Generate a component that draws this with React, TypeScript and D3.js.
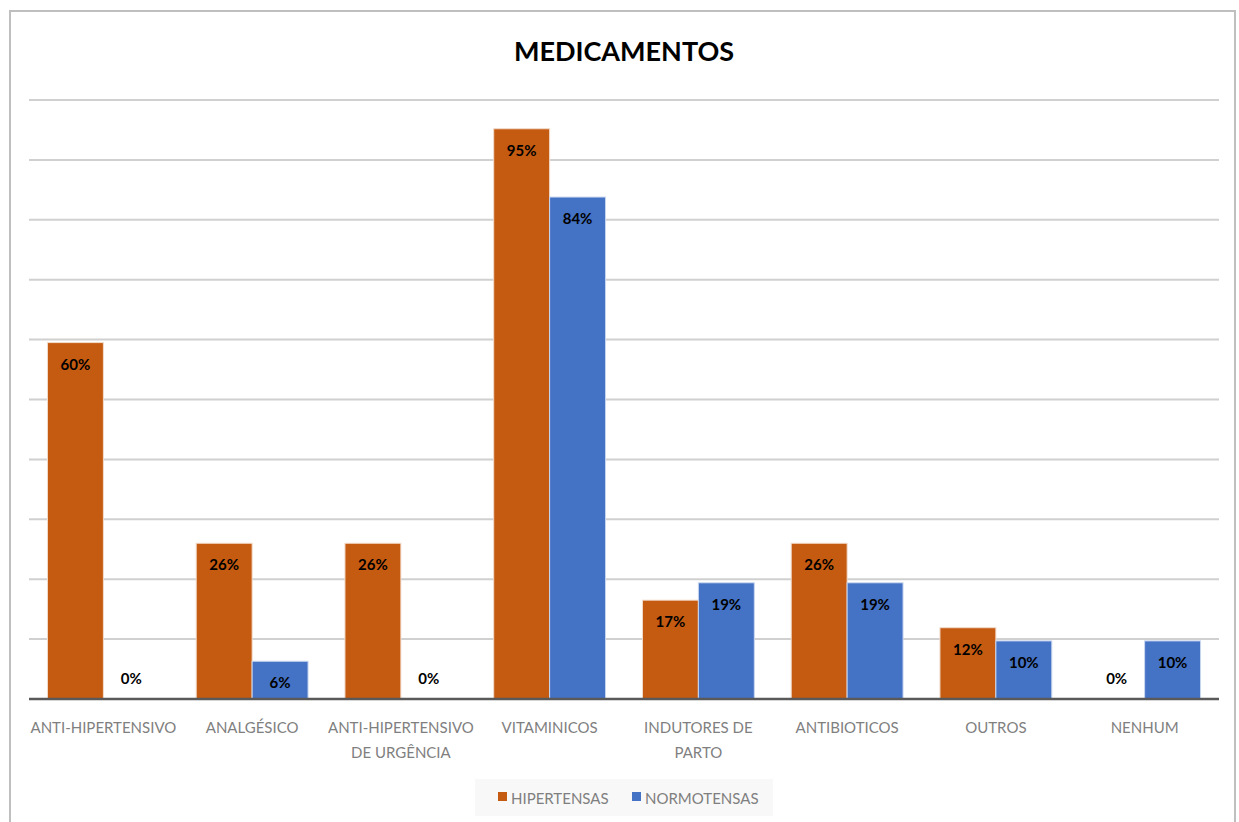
import React from "react";
import * as d3 from "d3";

const categories = [
  ["ANTI-HIPERTENSIVO"],
  ["ANALGÉSICO"],
  ["ANTI-HIPERTENSIVO", "DE URGÊNCIA"],
  ["VITAMINICOS"],
  ["INDUTORES DE", "PARTO"],
  ["ANTIBIOTICOS"],
  ["OUTROS"],
  ["NENHUM"],
];
const hipertensas = [59.5, 26, 26, 95.2, 16.5, 26, 11.9, 0];
const normotensas = [0, 6.3, 0, 83.8, 19.4, 19.4, 9.7, 9.7];
const seriesNames = ["HIPERTENSAS", "NORMOTENSAS"];
const colors = ["#C55A11", "#4472C4"];
const yTicks = d3.range(0, 101, 10);

export default function App() {
  const W = 1239, H = 822;
  const left = 29, right = 1219, top = 100, base = 699;
  const x = d3.scaleBand<number>().domain(d3.range(categories.length)).range([left, right]).paddingInner(0).paddingOuter(0);
  const x1 = d3.scaleBand<number>().domain([0, 1]).range([0, x.bandwidth()]).paddingOuter(0.33).paddingInner(0);
  const y = d3.scaleLinear().domain([0, 100]).range([base, top]);
  const font = "Lato, 'Open Sans', sans-serif";
  const series = [hipertensas, normotensas];
  return (
    <svg width={W} height={H} style={{ position: "absolute", left: 0, top: 0 }}>
      <rect x={0} y={0} width={W} height={H} fill="#fff" />
      <rect x={10} y={11} width={1225} height={820} fill="#fff" stroke="#bfbfbf" strokeWidth={2} />
      <text x={624} y={61} textAnchor="middle" fontFamily={font} fontWeight="bold" fontSize={27} fill="#000">MEDICAMENTOS</text>
      {yTicks.filter(t => t > 0).map(t => (
        <line key={t} x1={left} x2={right} y1={y(t)} y2={y(t)} stroke="#d0d0d0" strokeWidth={2} />
      ))}
      {series.map((vals, si) =>
        vals.map((v, i) => {
          const bx = (x(i) as number) + (x1(si) as number);
          const bw = x1.bandwidth();
          const label = Math.round(v) + "%";
          return (
            <g key={si + "-" + i}>
              {v > 0 && (
                <rect x={bx} y={y(v)} width={bw} height={base - y(v)} fill={colors[si]} stroke={si === 0 ? "#f2dccb" : "#c9d6ef"} strokeWidth={1} />
              )}
              <text x={bx + bw / 2} y={v > 0 ? y(v) + 27 : base - 15} textAnchor="middle" fontFamily={font} fontWeight="bold" fontSize={15} fill="#000">{label}</text>
            </g>
          );
        })
      )}
      <line x1={left} x2={right} y1={base} y2={base} stroke="#595959" strokeWidth={2.5} />
      {categories.map((lines, i) => (
        <text key={i} textAnchor="middle" fontFamily={font} fontSize={15} fill="#7f7f7f">
          {lines.map((l, j) => (
            <tspan key={j} x={(x(i) as number) + x.bandwidth() / 2} y={733 + j * 25}>{l}</tspan>
          ))}
        </text>
      ))}
      <rect x={475} y={779} width={298} height={37} fill="#f8f8f8" />
      {seriesNames.map((n, i) => {
        const lx = i === 0 ? 498 : 632;
        return (
          <g key={n}>
            <rect x={lx} y={792} width={9} height={9} fill={colors[i]} />
            <text x={lx + 13} y={804} fontFamily={font} fontSize={15} fill="#7f7f7f">{n}</text>
          </g>
        );
      })}
    </svg>
  );
}
